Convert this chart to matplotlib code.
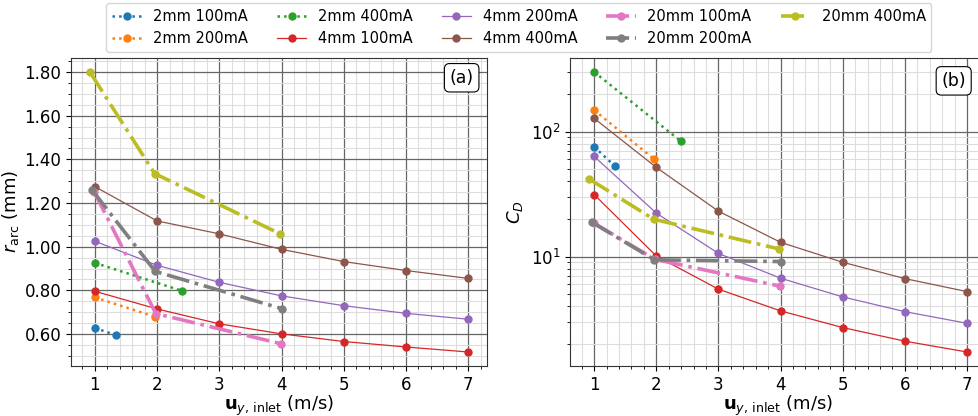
import numpy as np
import matplotlib
matplotlib.use("Agg")
from matplotlib import pyplot as plt
from matplotlib.ticker import AutoMinorLocator, FormatStrFormatter

plt.rcParams['font.family'] = ['DejaVu Sans']
plt.rcParams['mathtext.fontset'] = 'dejavusans'

# data
labels = ['2mm 100mA', '2mm 200mA', '2mm 400mA', '4mm 100mA', '4mm 200mA',
          '4mm 400mA', '20mm 100mA', '20mm 200mA', '20mm 400mA']

u_2mm_100 = [1.0, 1.34]
u_2mm_200 = [1.0, 1.97]
u_2mm_400 = [1.0, 2.40]
u_4mm = [1, 2, 3, 4, 5, 6, 7]
u_20mm_100 = [0.99, 1.98, 3.99]
u_20mm_200 = [0.96, 1.97, 4.0]
u_20mm_400 = [0.92, 1.96, 3.98]

r_2mm_100 = [0.628, 0.595]
r_2mm_200 = [0.768, 0.679]
r_2mm_400 = [0.926, 0.798]
r_4mm_100 = [0.796, 0.715, 0.647, 0.601, 0.566, 0.541, 0.518]
r_4mm_200 = [1.025, 0.915, 0.837, 0.775, 0.730, 0.695, 0.668]
r_4mm_400 = [1.275, 1.118, 1.059, 0.988, 0.932, 0.891, 0.855]
r_20mm_100 = [1.25, 0.694, 0.556]
r_20mm_200 = [1.258, 0.887, 0.717]
r_20mm_400 = [1.80, 1.335, 1.059]

cd_2mm_100 = [75.8, 52.7]
cd_2mm_200 = [149, 60]
cd_2mm_400 = [301, 83.6]
cd_4mm_100 = [31.4, 10.1, 5.48, 3.67, 2.70, 2.10, 1.72]
cd_4mm_200 = [63.4, 22.3, 10.6, 6.71, 4.75, 3.62, 2.92]
cd_4mm_400 = [128, 51.8, 23.1, 13.0, 9.0, 6.66, 5.24]
cd_20mm_100 = [18.6, 9.5, 5.8]
cd_20mm_200 = [18.9, 9.42, 9.12]
cd_20mm_400 = [41.8, 19.9, 11.5]

u_all = [u_2mm_100, u_2mm_200, u_2mm_400, u_4mm, u_4mm, u_4mm,
         u_20mm_100, u_20mm_200, u_20mm_400]
r_all = [r_2mm_100, r_2mm_200, r_2mm_400, r_4mm_100, r_4mm_200, r_4mm_400,
         r_20mm_100, r_20mm_200, r_20mm_400]
cd_all = [cd_2mm_100, cd_2mm_200, cd_2mm_400, cd_4mm_100, cd_4mm_200, cd_4mm_400,
          cd_20mm_100, cd_20mm_200, cd_20mm_400]

colors = ['C0', 'C1', 'C2', 'C3', 'C4', 'C5', 'C6', 'C7', 'C8']
styles = [':', ':', ':', '-', '-', '-', '-.', '-.', '-.']
widths = [1.8, 1.8, 1.8, 0.9, 0.9, 0.9, 2.6, 2.6, 2.6]

fig = plt.figure(figsize=(9.79, 4.16), dpi=100)
ax1 = fig.add_axes([0.0725, 0.1202, 0.425, 0.7404])
ax2 = fig.add_axes([0.5825, 0.1202, 0.4246, 0.7404])

handles = []
for i in range(9):
    h, = ax1.plot(u_all[i], r_all[i], ls=styles[i], lw=widths[i], color=colors[i],
                  marker='o', ms=5, label=labels[i])
    ax2.plot(u_all[i], cd_all[i], ls=styles[i], lw=widths[i], color=colors[i],
             marker='o', ms=5)
    handles.append(h)

ax2.set_yscale('log')

for ax in (ax1, ax2):
    ax.set_xticks([1, 2, 3, 4, 5, 6, 7])
    ax.xaxis.set_minor_locator(AutoMinorLocator())
    ax.grid(True, which='major', color='#666666', lw=0.9)
    ax.grid(True, which='minor', color='#dddddd', lw=0.8)
    ax.set_axisbelow(True)
    ax.tick_params(labelsize=12)
    ax.set_xlabel(r'$\mathbf{u}_{y,\,\mathrm{inlet}}$ (m/s)', fontsize=13, labelpad=0)
    for s in ax.spines.values():
        s.set_color('#333333')

ax1.yaxis.set_minor_locator(AutoMinorLocator())
ax1.yaxis.set_major_formatter(FormatStrFormatter('%.2f'))
ax1.set_ylabel(r'$r_\mathrm{arc}$ (mm)', fontsize=13, labelpad=2)
ax2.set_ylabel(r'$C_D$', fontsize=13)

box = dict(boxstyle='round,pad=0.3', fc='white', ec='black', lw=0.8)
ax1.text(0.968, 0.965, '(a)', transform=ax1.transAxes, ha='right', va='top',
         fontsize=12.5, bbox=box)
ax2.text(0.952, 0.955, '(b)', transform=ax2.transAxes, ha='right', va='top',
         fontsize=12.5, bbox=box)

fig.legend(handles=handles, loc='upper center', ncol=5, fontsize=10.5,
           bbox_to_anchor=(0.53, 1.0), borderaxespad=0.2)

fig.savefig('out.png', dpi=100)
